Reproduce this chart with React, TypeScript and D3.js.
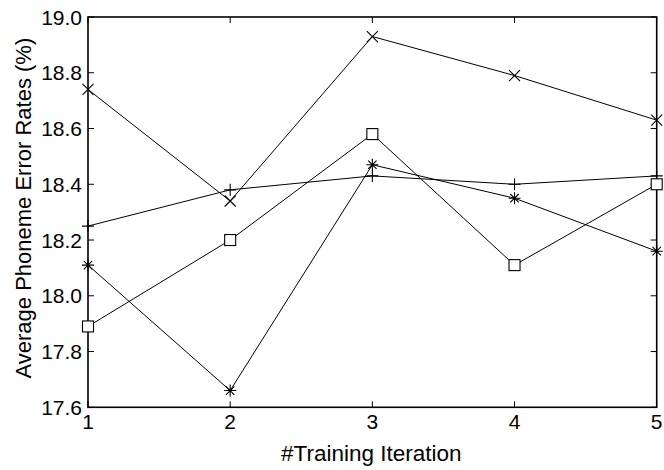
import React from "react";
import * as d3 from "d3";

const iterations = [1, 2, 3, 4, 5];
const seriesCross = [18.74, 18.34, 18.93, 18.79, 18.63];
const seriesPlus = [18.25, 18.38, 18.43, 18.40, 18.43];
const seriesSquare = [17.89, 18.20, 18.58, 18.11, 18.40];
const seriesStar = [18.11, 17.66, 18.47, 18.35, 18.16];
const yTicks = [17.6, 17.8, 18.0, 18.2, 18.4, 18.6, 18.8, 19.0];
const xTicks = [1, 2, 3, 4, 5];

const W = 664, H = 470;
const L = 88, R = 656.7, T = 17, B = 407.3;

function Marker({ kind, x, y }: { kind: string; x: number; y: number }) {
  const s = 5.5;
  const st = { stroke: "#000", strokeWidth: 1.1, fill: "none" };
  if (kind === "x")
    return <path d={`M${x - s},${y - s}L${x + s},${y + s}M${x - s},${y + s}L${x + s},${y - s}`} {...st} />;
  if (kind === "+")
    return <path d={`M${x - 6},${y}L${x + 6},${y}M${x},${y - 6}L${x},${y + 6}`} {...st} />;
  if (kind === "s")
    return <rect x={x - 5.5} y={y - 5.5} width={11} height={11} fill="#fff" stroke="#000" strokeWidth={1.1} />;
  const a = 6, d = 4.2;
  return (
    <path
      d={`M${x - a},${y}L${x + a},${y}M${x},${y - a}L${x},${y + a}M${x - d},${y - d}L${x + d},${y + d}M${x - d},${y + d}L${x + d},${y - d}`}
      {...st}
    />
  );
}

export default function App() {
  const x = d3.scaleLinear().domain([1, 5]).range([L, R]);
  const y = d3.scaleLinear().domain([17.6, 19.0]).range([B, T]);
  const line = d3
    .line<number>()
    .x((_, i) => x(iterations[i]))
    .y((v) => y(v));
  const series = [
    { data: seriesPlus, kind: "+" },
    { data: seriesCross, kind: "x" },
    { data: seriesSquare, kind: "s" },
    { data: seriesStar, kind: "*" },
  ];
  const font = "'Liberation Sans', Arial, Helvetica, sans-serif";
  return (
    <svg width={W} height={H} style={{ position: "absolute", left: 0, top: 0, background: "#fff" }} fontFamily={font}>
      <rect x={0} y={0} width={W} height={H} fill="#fff" />
      {series.map((s, k) => (
        <path key={k} d={line(s.data) || ""} fill="none" stroke="#000" strokeWidth={1} />
      ))}
      {yTicks.map((t) => (
        <g key={t}>
          <line x1={L} x2={L + 6} y1={y(t)} y2={y(t)} stroke="#000" strokeWidth={1} />
          <line x1={R} x2={R - 6} y1={y(t)} y2={y(t)} stroke="#000" strokeWidth={1} />
          <text x={L - 6} y={y(t)} dy="0.36em" textAnchor="end" fontSize={21}>
            {t.toFixed(1)}
          </text>
        </g>
      ))}
      {xTicks.map((t) => (
        <g key={t}>
          <line x1={x(t)} x2={x(t)} y1={B} y2={B - 6} stroke="#000" strokeWidth={1} />
          <line x1={x(t)} x2={x(t)} y1={T} y2={T + 6} stroke="#000" strokeWidth={1} />
          <text x={x(t)} y={B + 22} textAnchor="middle" fontSize={21}>
            {t}
          </text>
        </g>
      ))}
      <rect x={L} y={T} width={R - L} height={B - T} fill="none" stroke="#000" strokeWidth={1.6} />
      {series.map((s, k) =>
        s.data.map((v, i) => <Marker key={`${k}-${i}`} kind={s.kind} x={x(iterations[i])} y={y(v)} />)
      )}
      <text x={(L + R) / 2 - 1} y={461} textAnchor="middle" fontSize={22.5}>
        #Training Iteration
      </text>
      <text transform={`translate(31,${(T + B) / 2 - 4}) rotate(-90)`} textAnchor="middle" fontSize={22}>
        Average Phoneme Error Rates (%)
      </text>
    </svg>
  );
}
